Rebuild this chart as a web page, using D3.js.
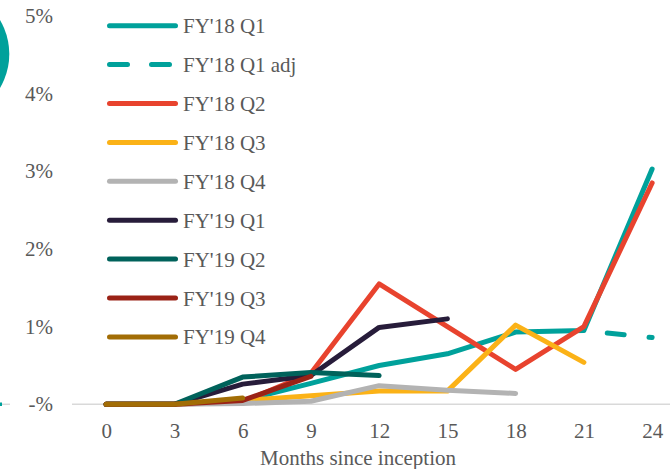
<!DOCTYPE html>
<html>
<head>
<meta charset="utf-8">
<script src="https://cdn.jsdelivr.net/npm/d3@7"></script>
<style>
  html, body { margin: 0; padding: 0; background: #fff; }
  svg { display: block; }
  text { font-family: "Liberation Serif", "Times New Roman", serif; fill: #595959; }
</style>
</head>
<body>
<svg id="chart" width="670" height="469"></svg>
<script>
// ---- data ----
const months = [0, 3, 6, 9, 12, 15, 18, 21, 24];
const yTicks = [0, 1, 2, 3, 4, 5];
const yTickLabels = ["-%", "1%", "2%", "3%", "4%", "5%"];
const seriesNames = ["FY'18 Q1", "FY'18 Q1 adj", "FY'18 Q2", "FY'18 Q3", "FY'18 Q4", "FY'19 Q1", "FY'19 Q2", "FY'19 Q3", "FY'19 Q4"];
const fy18q1    = [0, 0, 0.05, 0.27, 0.50, 0.65, 0.93, 0.95, 3.03];
const fy18q1adj = [null, null, null, null, null, null, null, 0.95, 0.86];
const fy18q2    = [0, 0, 0.03, 0.40, 1.55, 1.00, 0.45, 1.00, 2.85];
const fy18q3    = [0, 0, 0.05, 0.11, 0.17, 0.17, 1.02, 0.54, null];
const fy18q4    = [0, 0, 0.01, 0.04, 0.24, 0.18, 0.14, null, null];
const fy19q1    = [0, 0, 0.26, 0.37, 0.99, 1.10, null, null, null];
const fy19q2    = [0, 0, 0.35, 0.41, 0.37, null, null, null, null];
const fy19q3    = [0, 0, 0.05, 0.36, null, null, null, null, null];
const fy19q4    = [0, 0, 0.08, null, null, null, null, null, null];
const seriesValues = [fy18q1, fy18q1adj, fy18q2, fy18q3, fy18q4, fy19q1, fy19q2, fy19q3, fy19q4];
const seriesColors = ["#00A19B", "#00A19B", "#E8432E", "#FBB217", "#B3B3B3", "#271C3A", "#00625B", "#9A2216", "#A26D05"];
const seriesDash = [null, "17,25", null, null, null, null, null, null, null];

// ---- layout ----
const svg = d3.select("#chart");
const x = d3.scalePoint().domain(months).range([72, 72 + 68.25 * 9]).padding(0.5);
const y = d3.scaleLinear().domain([0, 5]).range([404.3, 16]);

// decorative fragments from neighbouring content
svg.append("circle").attr("cx", -57.5).attr("cy", 54).attr("r", 66.8).attr("fill", "#00A19B");
svg.append("line").attr("x1", 0).attr("x2", 10).attr("y1", 404.3).attr("y2", 404.3)
  .attr("stroke", "#D9D9D9").attr("stroke-width", 1.5);
svg.append("rect").attr("x", 0).attr("y", 402.5).attr("width", 2).attr("height", 3.5).attr("fill", "#00A19B");

// baseline
svg.append("line")
  .attr("x1", 72).attr("x2", 670)
  .attr("y1", y(0)).attr("y2", y(0))
  .attr("stroke", "#D9D9D9").attr("stroke-width", 1.5);

// y labels
svg.append("g").selectAll("text").data(yTicks).join("text")
  .attr("x", 53).attr("y", d => y(d) + 7)
  .attr("text-anchor", "end")
  .attr("font-size", 21)
  .text((d, i) => yTickLabels[i]);

// x axis labels
const xAxis = d3.axisBottom(x).tickSize(0).tickPadding(0);
const gx = svg.append("g").attr("transform", `translate(0, ${y(0)})`).call(xAxis);
gx.select(".domain").remove();
gx.selectAll("text")
  .attr("dy", null).attr("y", 34)
  .attr("font-size", 21)
  .attr("font-family", "'Liberation Serif', 'Times New Roman', serif")
  .attr("fill", "#595959");

svg.append("text")
  .attr("x", 358).attr("y", 465)
  .attr("text-anchor", "middle")
  .attr("font-size", 21)
  .text("Months since inception");

// lines
const line = d3.line()
  .defined(d => d.v != null)
  .x(d => x(d.m))
  .y(d => y(d.v));

seriesNames.forEach((name, i) => {
  const pts = months.map((m, j) => ({ m, v: seriesValues[i][j] }));
  const p = svg.append("path")
    .datum(pts)
    .attr("d", line)
    .attr("fill", "none")
    .attr("stroke", seriesColors[i])
    .attr("stroke-width", 5)
    .attr("stroke-linecap", "round")
    .attr("stroke-linejoin", "round");
  if (seriesDash[i]) p.attr("stroke-dasharray", seriesDash[i]).attr("stroke-dashoffset", 18.5);
});

// legend
const lg = svg.append("g");
seriesNames.forEach((name, i) => {
  const ly = 25.7 + 38.9 * i;
  lg.append("line")
    .attr("x1", 109.5).attr("x2", 175.5)
    .attr("y1", ly).attr("y2", ly)
    .attr("stroke", seriesColors[i])
    .attr("stroke-width", 5)
    .attr("stroke-linecap", "round")
    .attr("stroke-dasharray", seriesDash[i] ? "18,24" : null);
  lg.append("text")
    .attr("x", 183).attr("y", ly + 7.5)
    .attr("font-size", 21)
    .text(name);
});
</script>
</body>
</html>
